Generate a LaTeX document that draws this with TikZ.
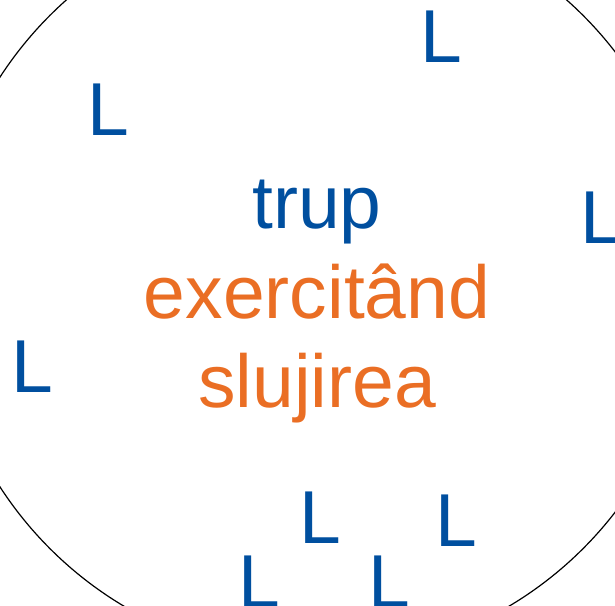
\documentclass[tikz,border=0pt]{standalone}
\usepackage{fontspec}
\setmainfont{Liberation Sans}
\usetikzlibrary{positioning}
\definecolor{trupblue}{RGB}{0,79,159}
\definecolor{slujorange}{RGB}{234,110,36}
\tikzset{
letter/.style={text=trupblue, font=\fontsize{75}{90}\selectfont, inner sep=0pt, anchor=base west},
word/.style={font=\fontsize{75}{90}\selectfont, inner sep=0pt, anchor=base}
}

\begin{document}
\begin{tikzpicture}[x=1pt,y=-1pt]
\useasboundingbox (0,0) rectangle (615,605);
\clip (0,0) rectangle (615,605);
\coordinate (c) at (316.5,282);
\draw[line width=1.2pt] (c) circle[radius=377];
\node[letter] (l1) at (87.5,135) {L};
\node[letter] (l2) at (420.5,62) {L};
\node[letter] (l3) at (580.5,243) {L};
\node[letter] (l4) at (11.5,392) {L};
\node[letter] (l5) at (299.5,543) {L};
\node[letter] (l6) at (435.5,546) {L};
\node[letter] (l7) at (238.5,607) {L};
\node[letter] (l8) at (368.5,607) {L};
\node[word, text=trupblue] (trup) at (317,228) {trup};
\node[word, text=slujorange, below=90pt of trup.base, anchor=base] (exer) {exercitând};
\node[word, text=slujorange, below=89pt of exer.base, anchor=base] (sluj) {slujirea};
\end{tikzpicture}
\end{document}
